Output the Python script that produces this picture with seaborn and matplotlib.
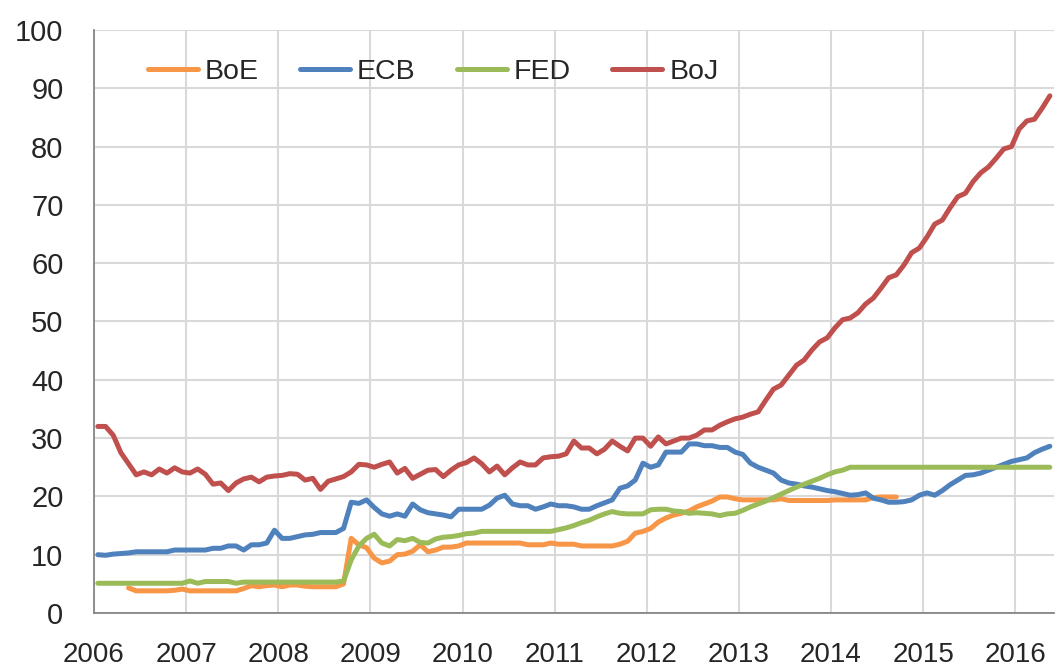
import numpy as np
import pandas as pd
import seaborn as sns
import matplotlib.pyplot as plt

# monthly values, Jan 2006 .. May 2016 (125 months), % of GDP
nan = np.nan
boe = [nan, nan, nan, nan, 4.3, 3.8, 3.8, 3.8, 3.8, 3.8, 3.9, 4.1,
       3.8, 3.8, 3.8, 3.8, 3.8, 3.8, 3.8, 4.2, 4.7, 4.5, 4.7, 4.8,
       4.5, 4.8, 4.8, 4.6, 4.5, 4.5, 4.5, 4.5, 5.0, 12.8, 11.7, 11.2,
       9.4, 8.6, 8.9, 10.0, 10.1, 10.6, 11.7, 10.5, 10.8, 11.3, 11.3, 11.5,
       12.0, 12.0, 12.0, 12.0, 12.0, 12.0, 12.0, 12.0, 11.7, 11.7, 11.7, 12.0,
       11.8, 11.8, 11.8, 11.5, 11.5, 11.5, 11.5, 11.5, 11.8, 12.3, 13.7, 14.0,
       14.5, 15.6, 16.3, 16.8, 17.1, 17.5, 18.2, 18.7, 19.2, 19.9, 19.9, 19.6,
       19.4, 19.4, 19.4, 19.4, 19.4, 19.6, 19.3, 19.3, 19.3, 19.3, 19.3, 19.3,
       19.4, 19.4, 19.4, 19.4, 19.4, 19.8, 19.9, 19.9, 19.9, nan, nan, nan,
       nan, nan, nan, nan, nan, nan, nan, nan, nan, nan, nan, nan,
       nan, nan, nan, nan, nan]
ecb = [10.0, 9.9, 10.1, 10.2, 10.3, 10.5, 10.5, 10.5, 10.5, 10.5, 10.8, 10.8,
       10.8, 10.8, 10.8, 11.1, 11.1, 11.5, 11.5, 10.8, 11.7, 11.7, 12.0, 14.2,
       12.8, 12.8, 13.1, 13.4, 13.5, 13.8, 13.8, 13.8, 14.5, 19.0, 18.8, 19.4,
       18.1, 17.0, 16.6, 17.0, 16.6, 18.7, 17.7, 17.2, 17.0, 16.8, 16.5, 17.8,
       17.8, 17.8, 17.8, 18.5, 19.7, 20.2, 18.7, 18.4, 18.4, 17.8, 18.2, 18.7,
       18.4, 18.4, 18.2, 17.8, 17.8, 18.4, 18.9, 19.4, 21.4, 21.8, 22.8, 25.7,
       25.0, 25.4, 27.6, 27.6, 27.6, 29.0, 29.0, 28.7, 28.7, 28.4, 28.4, 27.6,
       27.2, 25.7, 25.0, 24.5, 24.0, 22.8, 22.3, 22.1, 21.8, 21.6, 21.3, 21.0,
       20.8, 20.5, 20.2, 20.3, 20.6, 19.7, 19.4, 19.0, 19.0, 19.1, 19.4, 20.2,
       20.6, 20.2, 21.0, 22.0, 22.8, 23.6, 23.7, 24.0, 24.5, 25.0, 25.5, 26.0,
       26.3, 26.6, 27.5, 28.1, 28.6]
fed = [5.1, 5.1, 5.1, 5.1, 5.1, 5.1, 5.1, 5.1, 5.1, 5.1, 5.1, 5.1,
       5.5, 5.1, 5.4, 5.4, 5.4, 5.4, 5.1, 5.3, 5.3, 5.3, 5.3, 5.3,
       5.3, 5.3, 5.3, 5.3, 5.3, 5.3, 5.3, 5.3, 5.5, 9.1, 11.5, 12.8,
       13.5, 12.0, 11.5, 12.6, 12.4, 12.8, 12.1, 12.0, 12.7, 13.0, 13.1, 13.3,
       13.6, 13.7, 14.0, 14.0, 14.0, 14.0, 14.0, 14.0, 14.0, 14.0, 14.0, 14.0,
       14.3, 14.6, 15.0, 15.5, 15.9, 16.5, 17.0, 17.4, 17.1, 17.0, 17.0, 17.0,
       17.7, 17.8, 17.8, 17.5, 17.4, 17.1, 17.2, 17.1, 17.0, 16.7, 17.0, 17.1,
       17.6, 18.2, 18.7, 19.2, 19.8, 20.4, 21.0, 21.6, 22.1, 22.6, 23.1, 23.7,
       24.2, 24.5, 25.0, 25.0, 25.0, 25.0, 25.0, 25.0, 25.0, 25.0, 25.0, 25.0,
       25.0, 25.0, 25.0, 25.0, 25.0, 25.0, 25.0, 25.0, 25.0, 25.0, 25.0, 25.0,
       25.0, 25.0, 25.0, 25.0, 25.0]
boj = [32.0, 32.0, 30.5, 27.5, 25.6, 23.7, 24.2, 23.7, 24.7, 24.0, 24.9, 24.2,
       24.0, 24.7, 23.8, 22.1, 22.3, 21.0, 22.3, 23.0, 23.3, 22.5, 23.3, 23.5,
       23.6, 23.9, 23.8, 22.8, 23.1, 21.2, 22.6, 23.0, 23.4, 24.2, 25.5, 25.4,
       25.0, 25.5, 25.9, 24.0, 24.8, 23.1, 23.8, 24.5, 24.6, 23.4, 24.5, 25.4,
       25.8, 26.6, 25.6, 24.2, 25.2, 23.7, 24.9, 25.9, 25.4, 25.4, 26.6, 26.8,
       26.9, 27.3, 29.5, 28.3, 28.3, 27.3, 28.1, 29.5, 28.6, 27.8, 30.0, 30.0,
       28.6, 30.2, 29.0, 29.5, 30.0, 30.0, 30.5, 31.4, 31.4, 32.2, 32.8, 33.3,
       33.6, 34.1, 34.5, 36.5, 38.4, 39.1, 40.8, 42.5, 43.4, 45.1, 46.5, 47.2,
       48.9, 50.3, 50.6, 51.5, 53.0, 54.0, 55.7, 57.5, 58.0, 59.7, 61.8, 62.6,
       64.5, 66.7, 67.4, 69.5, 71.4, 72.0, 74.0, 75.5, 76.5, 78.0, 79.6, 80.0,
       83.0, 84.4, 84.7, 86.6, 88.7]

banks = ["BoE", "ECB", "FED", "BoJ"]
colors = {"BoE": "#F79646", "ECB": "#4F81BD", "FED": "#9BBB59", "BoJ": "#C0504D"}
years = list(range(2006, 2017))

months = 2006 + (np.arange(len(boj)) + 0.5) / 12
wide = pd.DataFrame({"year": months, "BoE": boe, "ECB": ecb, "FED": fed, "BoJ": boj})
df = wide.melt(id_vars="year", var_name="bank", value_name="value")

sns.set_style("white")
plt.rcParams["font.family"] = ["Liberation Sans", "DejaVu Sans"]

fig = plt.figure(figsize=(10.57, 6.70), dpi=100)
ax = fig.add_axes([94 / 1057, 57 / 670, 960 / 1057, 583 / 670])

sns.lineplot(data=df, x="year", y="value", hue="bank", hue_order=banks,
             palette=colors, linewidth=3.6, ax=ax,
             solid_capstyle="round", solid_joinstyle="round")

ax.set_xlim(2006, 2016.42)
ax.set_ylim(0, 100)
ax.set_xticks(years)
ax.set_xticklabels([str(y) for y in years])
ax.set_yticks(range(0, 101, 10))
ax.set_xlabel("")
ax.set_ylabel("")

ax.grid(True, color="#D9D9D9", linewidth=1.5)
ax.set_axisbelow(True)
for s in ["top", "right"]:
    ax.spines[s].set_visible(False)
for s in ["left", "bottom"]:
    ax.spines[s].set_color("#868686")
    ax.spines[s].set_linewidth(1.3)

ax.tick_params(axis="x", direction="out", length=8, width=1.2, color="#868686",
               pad=13, labelsize=20)
ax.tick_params(axis="y", direction="out", length=4, width=1.2, color="#868686",
               pad=18, labelsize=21)

handles, labels = ax.get_legend_handles_labels()
ax.legend(handles, labels, loc="center left", bbox_to_anchor=(0.056, 0.928),
          ncol=4, frameon=False, fontsize=20.5, borderpad=0, borderaxespad=0,
          handlelength=1.75, handletextpad=0.25, columnspacing=1.45)

fig.savefig("out.png", dpi=100)
